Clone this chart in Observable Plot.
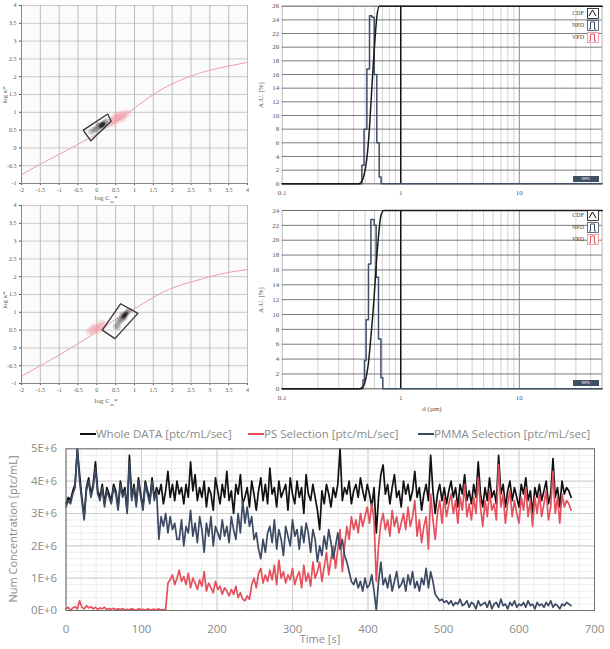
<!DOCTYPE html>
<html><head><meta charset="utf-8">
<script src="https://cdn.jsdelivr.net/npm/d3@7"></script>
<script src="https://cdn.jsdelivr.net/npm/@observablehq/plot@0.6"></script>
<style>
body{margin:0;background:#fff;}
#wrap{position:relative;width:610px;height:649px;overflow:hidden;font-family:"Liberation Serif",serif;}
#wrap > svg, #wrap > figure, .abs{position:absolute;margin:0;}
.lab{position:absolute;white-space:nowrap;color:#555;font-family:"Liberation Serif",serif;font-size:7px;}
.lab sub{font-size:5px;}
.rot{transform:translate(-50%,-50%) rotate(-90deg);}
.ctr{transform:translate(-50%,-50%);}
.sans{font-family:"Open Sans",sans-serif;color:#8a8a8a;font-size:11.5px;}
</style></head><body><div id="wrap"></div>
<script>
// ---------- scatter panels (log κ* vs log C*) ----------
const scatterTicksX = [-2,-1.5,-1,-0.5,0,0.5,1,1.5,2,2.5,3,3.5,4];
const scatterTicksY = [-1,-0.5,0,0.5,1,1.5,2,2.5,3,3.5,4];
const curveX  = [-2,-1.5,-1,-0.5,0,0.5,1,1.5,2,2.5,3,3.5,4];
const curve1Y = [-0.75,-0.46,-0.18,0.1,0.4,0.74,1.12,1.5,1.8,2.02,2.18,2.3,2.4];
const curve2Y = [-0.8,-0.5,-0.2,0.12,0.45,0.8,1.1,1.42,1.68,1.85,2.0,2.12,2.2];
const rect1X = [-0.36,0.29,0.38,-0.16,-0.36];
const rect1Y = [0.5,0.95,0.75,0.2,0.5];
const rect2X = [0.145,0.63,1.09,0.48,0.145];
const rect2Y = [0.5,1.24,0.97,0.26,0.5];
const gray1X = [-0.15,-0.1,-0.05,0,0.03,0.06,0.1,0.12,0.15,0.17,0.2,0.22,0.13,0.08,0.18,0.25,-0.02,0.05];
const gray1Y = [0.45,0.5,0.52,0.55,0.6,0.58,0.62,0.66,0.64,0.68,0.7,0.72,0.6,0.65,0.63,0.75,0.5,0.63];
const core1X = [0.12,0.16,0.1,0.18,0.14];
const core1Y = [0.63,0.66,0.61,0.68,0.65];
const pink1X = [0.35,0.4,0.45,0.5,0.55,0.6,0.65,0.7,0.75,0.48,0.58,0.62,0.8,0.42,0.53,0.68];
const pink1Y = [0.72,0.75,0.8,0.78,0.85,0.88,0.86,0.92,0.95,0.84,0.8,0.93,0.97,0.7,0.9,0.85];
const gray2X = [0.5,0.55,0.58,0.62,0.65,0.68,0.7,0.72,0.75,0.78,0.8,0.83,0.6,0.66,0.74,0.7,0.86,0.56];
const gray2Y = [0.6,0.65,0.72,0.75,0.8,0.85,0.82,0.9,0.93,0.95,1.0,1.02,0.8,0.9,0.86,0.95,1.05,0.58];
const core2X = [0.72,0.76,0.7,0.78,0.74];
const core2Y = [0.9,0.94,0.86,0.97,0.92];
const pink2X = [-0.2,-0.15,-0.1,-0.05,0,0.05,0.1,0.15,0.2,-0.08,0.03,0.12];
const pink2Y = [0.45,0.5,0.48,0.55,0.55,0.6,0.58,0.63,0.65,0.58,0.5,0.68];

// ---------- size distribution panels ----------
const histTicksX = [0.1,1,10,50];
const histMinorX = [0.2,0.3,0.4,0.5,0.6,0.7,0.8,0.9,2,3,4,5,6,7,8,9,20,30,40,50];
const npd1Edges = [0.47,0.49,0.518,0.545,0.57,0.597,0.628,0.658,0.683];
const npd1Vals  = [2.7,8.0,16.8,24.6,24.4,16,6,1.0];
const cdf1D = [0.1,0.44,0.47,0.5,0.52,0.545,0.57,0.597,0.628,0.66,0.69,50];
const cdf1V = [0,0,0.4,2,4,8.3,14,19.5,24.4,26,26,26];
const npd2Edges = [0.48,0.494,0.51,0.534,0.56,0.597,0.62,0.649,0.68,0.706];
const npd2Vals  = [1.2,3.8,9.3,16.8,22.8,22.0,15,6.7,1.5];
const cdf2D = [0.1,0.45,0.48,0.51,0.534,0.56,0.597,0.62,0.649,0.68,0.72,50];
const cdf2V = [0,0,0.3,1.5,3.5,7,12.5,16.5,20.5,23.3,24,24];
const histLegend = ["CDF","NPD","VPD"];

// ---------- time series (values in E+6 ptc/mL, one sample every 3 s) ----------
const timeStep = 3;
const whole = [
3.3,3.5,3.4,3.7,3.9,5.0,4.2,3.5,2.9,3.8,
4.1,3.6,3.9,4.6,3.7,3.5,3.9,3.3,3.8,3.6,
3.4,3.9,3.7,3.2,4.0,3.6,3.8,3.1,4.8,3.5,
3.9,3.3,4.1,3.6,3.2,4.0,3.7,3.4,4.1,3.5,
3.8,3.6,3.9,3.3,3.7,4.3,3.5,3.9,3.4,4.0,
3.6,3.8,3.3,3.9,3.5,4.6,3.7,4.2,3.4,3.8,
3.5,4.0,3.2,3.8,3.6,3.1,4.1,3.7,3.3,3.9,
3.5,4.3,3.4,3.7,3.0,3.9,3.6,4.2,3.3,3.5,
3.8,3.2,4.0,3.6,3.1,3.7,4.1,3.4,3.9,3.3,
4.4,3.6,3.8,3.2,4.0,3.5,3.7,3.9,3.1,4.1,
3.6,3.3,4.0,3.5,3.8,3.0,4.2,3.6,3.4,3.9,
3.5,3.1,2.5,3.7,3.3,3.9,3.6,3.2,3.8,3.5,
3.9,5.0,3.4,3.8,3.6,4.0,3.3,3.7,3.9,3.5,
4.1,3.7,3.4,3.9,3.6,3.2,3.8,2.4,3.5,4.2,
4.5,3.6,3.9,3.3,3.8,4.2,3.5,3.7,3.2,4.0,
3.6,3.9,3.4,3.7,4.3,3.5,3.8,3.1,3.6,3.9,
3.4,4.8,3.7,3.0,3.6,3.9,3.4,3.8,3.3,3.7,
4.0,3.5,3.8,3.2,3.9,3.6,4.2,3.4,3.7,3.3,
3.9,3.5,4.6,3.6,3.2,3.8,3.4,4.1,3.5,3.7,
3.3,4.8,3.6,3.9,3.2,3.7,4.0,3.4,3.8,3.5,
3.2,3.9,3.6,4.1,3.4,3.7,3.0,3.8,3.5,3.9,
3.4,3.7,4.0,3.3,3.6,4.7,3.5,3.8,3.2,4.0,
3.6,3.8,3.7,3.5];
const ps = [
0.05,0.1,0.0,0.08,0.12,0.05,0.3,0.1,0.05,0.15,
0.08,0.12,0.05,0.1,0.03,0.08,0.05,0.1,0.02,0.06,
0.04,0.07,0.02,0.05,0.03,0.06,0.01,0.04,0.02,0.05,
0.03,0.0,0.06,0.02,0.04,0.01,0.05,0.02,0.03,0.04,
0.02,0.05,0.01,0.03,0.02,0.85,0.95,1.1,0.8,1.0,
1.25,0.9,1.05,0.8,1.15,0.7,1.0,0.85,0.65,0.95,
0.75,1.2,0.6,0.85,0.7,0.55,0.9,0.65,0.75,0.5,
0.7,0.6,0.45,0.65,0.5,0.75,0.4,0.55,0.35,0.3,
0.45,0.35,0.8,1.0,0.7,1.15,1.3,0.85,1.1,0.9,
1.25,0.95,1.4,0.8,1.55,1.0,1.2,0.85,1.1,0.95,
1.3,0.8,1.05,1.2,0.7,1.4,0.9,1.15,0.75,1.5,
1.0,1.2,1.5,0.9,1.35,1.8,1.1,1.6,2.0,1.3,
1.9,2.5,1.2,2.0,2.6,2.2,2.9,2.5,2.8,2.4,
3.0,2.6,2.9,3.2,2.7,3.3,2.8,0.9,2.0,2.7,
3.0,2.5,2.8,2.3,3.1,2.6,2.9,2.4,2.7,3.0,
2.5,3.2,2.6,2.9,3.4,2.3,2.8,2.1,2.6,2.9,
1.9,3.6,2.8,2.2,3.0,3.4,2.7,3.5,2.9,3.3,
3.6,3.0,3.4,2.7,3.5,3.1,3.9,2.9,3.3,2.8,
3.5,3.0,4.1,3.2,2.6,3.4,2.9,3.7,3.1,3.3,
2.8,4.5,3.2,3.6,2.7,3.3,3.7,2.9,3.4,3.0,
2.7,3.5,3.1,3.8,2.9,3.4,2.6,3.5,3.0,3.6,
2.9,3.3,3.7,2.8,3.2,4.3,3.0,3.5,2.7,3.6,
3.2,3.4,3.3,3.1];
const pmma = [
3.2,3.4,3.3,3.6,3.8,5.0,4.0,3.4,2.8,3.7,
4.0,3.5,3.8,4.4,3.6,3.4,3.8,3.2,3.7,3.5,
3.3,3.8,3.6,3.1,3.9,3.5,3.7,3.0,4.6,3.4,
3.8,3.2,4.0,3.5,3.1,3.9,3.6,3.3,4.0,3.4,
3.7,2.2,2.9,2.6,3.0,2.4,2.9,2.5,2.7,2.2,
2.2,2.8,2.0,2.6,2.4,3.1,2.3,2.7,2.1,2.9,
2.5,1.8,2.7,2.3,2.9,2.0,2.6,2.4,2.2,2.8,
2.3,2.6,2.1,2.9,2.5,2.2,3.0,2.4,3.4,2.7,
3.2,2.6,2.9,2.2,2.4,1.9,1.6,2.2,1.8,2.4,
2.6,2.1,2.8,1.9,2.5,2.2,1.7,2.6,2.3,2.0,
2.8,2.3,2.5,1.9,2.6,2.1,2.7,2.4,1.8,2.5,
2.2,1.5,2.0,1.7,2.3,1.9,2.5,2.1,1.6,2.0,
2.4,1.9,2.2,1.7,1.5,1.2,0.9,0.8,1.0,0.7,
0.9,0.6,1.0,0.7,0.8,1.1,0.6,0.0,0.9,1.5,
0.8,1.0,0.7,1.1,0.6,0.9,1.2,0.7,0.8,1.0,
0.6,1.1,0.8,1.2,0.7,0.9,0.6,1.0,0.8,1.3,
0.7,1.2,0.9,0.5,0.4,0.3,0.35,0.25,0.3,0.2,
0.3,0.15,0.25,0.2,0.35,0.15,0.2,0.3,0.1,0.25,
0.2,0.05,0.3,0.15,0.2,0.25,0.1,0.3,0.05,0.2,
0.25,0.1,0.35,0.15,0.2,0.05,0.25,0.15,0.3,0.1,
0.2,0.15,0.25,0.1,0.3,0.15,0.2,0.05,0.25,0.15,
0.2,0.1,0.25,0.15,0.3,0.1,0.2,0.15,0.05,0.2,
0.15,0.25,0.2,0.15];
const seriesNames = ["Whole DATA [ptc/mL/sec]","PS Selection [ptc/mL/sec]","PMMA Selection [ptc/mL/sec]"];
const seriesColors = ["#111111","#e4515d","#3c4a63"];
const tsTicksX = [0,100,200,300,400,500,600,700];
const tsTicksY = [0,1,2,3,4,5];
const tsTickLabelsY = ["0E+0","1E+6","2E+6","3E+6","4E+6","5E+6"];

const wrap = document.getElementById("wrap");
function place(el, left, top){ el.style.position="absolute"; el.style.left=left+"px"; el.style.top=top+"px"; wrap.appendChild(el); return el; }
function label(html, x, y, cls){ const d=document.createElement("div"); d.className="lab "+(cls||"ctr"); d.innerHTML=html; d.style.left=x+"px"; d.style.top=y+"px"; wrap.appendChild(d); return d; }
const zip = (xs, ys) => xs.map((x,i)=>({x, y: ys[i]}));

function scatter(top, cY, rX, rY, gX, gY, cX, cYY, pX, pY){
  return place(Plot.plot({
    width: 250, height: 205, marginLeft: 21, marginRight: 3, marginTop: 5, marginBottom: 22,
    style: {fontFamily: "Liberation Serif", fontSize: "6px", color: "#555", background: "transparent"},
    x: {domain: [-2,4], ticks: scatterTicksX, tickFormat: d => String(d), tickSize: 2, tickPadding: 2, label: null},
    y: {domain: [-1,4], ticks: scatterTicksY, tickFormat: d => String(d), tickSize: 2, tickPadding: 3, label: null},
    marks: [
      Plot.frame({fill: "#fbfbfb", stroke: null}),
      Plot.gridX(scatterTicksX, {stroke: "#a8a8a8", strokeOpacity: 0.75}),
      Plot.gridY(scatterTicksY, {stroke: "#b8b8b8", strokeOpacity: 0.75}),
      Plot.line(zip(curveX, cY), {x:"x", y:"y", stroke:"#e9a0a9", strokeWidth:1, curve:"natural"}),
      Plot.dot(zip(pX, pY), {x:"x", y:"y", r:4, fill:"#f29aa5", fillOpacity:0.22}),
      Plot.dot(zip(gX, gY), {x:"x", y:"y", r:3, fill:"#6a6a6a", fillOpacity:0.28}),
      Plot.dot(zip(cX, cYY), {x:"x", y:"y", r:2, fill:"#1e1e1e", fillOpacity:0.5}),
      Plot.line(zip(rX, rY), {x:"x", y:"y", stroke:"#333", strokeWidth:1.3}),
      Plot.ruleX([-2], {stroke:"#888"}),
      Plot.ruleY([-1], {stroke:"#888"})
    ]
  }), 0, top);
}
scatter(0, curve1Y, rect1X, rect1Y, gray1X, gray1Y, core1X, core1Y, pink1X, pink1Y);
scatter(200, curve2Y, rect2X, rect2Y, gray2X, gray2Y, core2X, core2Y, pink2X, pink2Y);
label("log C<sub>ss</sub>*", 106, 199);
label("log C<sub>ss</sub>*", 106, 402);
label("log κ*", 5, 95, "rot");
label("log κ*", 5, 300, "rot");

function hist(top, mt, mb, h, ymax, edges, vals, cD, cV){
  const yt = d3.range(0, ymax+1, 2);
  const step = [{x:0.1,y:0}].concat(edges.slice(0,-1).map((e,i)=>({x:e, y:vals[i]})), [{x:edges[edges.length-1], y:0},{x:50,y:0}]);
  return place(Plot.plot({
    width: 360, height: h, marginLeft: 31.7, marginRight: 8.3, marginTop: mt, marginBottom: mb,
    style: {fontFamily: "Liberation Serif", fontSize: "7px", color: "#555", background: "transparent"},
    x: {type: "log", domain: [0.1,50], ticks: histTicksX, tickFormat: d=>String(d), tickSize: 0, tickPadding: 6, label: null},
    y: {domain: [0,ymax], ticks: yt, tickSize: 0, tickPadding: 3, label: null},
    marks: [
      Plot.frame({stroke: "#bbb"}),
      Plot.gridX(histMinorX, {stroke: "#d2d2d2", strokeOpacity: 1}),
      Plot.gridY(yt, {stroke: "#5a5a5a", strokeOpacity: 0.8}),
      Plot.ruleX([10], {stroke: "#8a8a8a"}),
      Plot.ruleX([1], {stroke: "#111", strokeWidth: 1.5}),
      Plot.line(step, {x:"x", y:"y", stroke:"#3e4f66", strokeWidth:1.5, curve:"step-after"}),
      Plot.line(zip(cD, cV), {x:"x", y:"y", stroke:"#1a1a1a", strokeWidth:1.5, curve:"monotone-x"})
    ]
  }), 250, top);
}
hist(0, 5.7, 16.7, 200, 26, npd1Edges, npd1Vals, cdf1D, cdf1V);
hist(200, 10, 16.7, 205, 24, npd2Edges, npd2Vals, cdf2D, cdf2V);
label("A.U. [%]", 261, 95, "rot");
label("A.U. [%]", 261, 300, "rot");
label("d (µm)", 432, 409);

function histLegendAt(top){
  const icons = [
    '<polyline points="2,8 5.5,2 9,8" fill="none" stroke="#111" stroke-width="1"/>',
    '<polyline points="2,9 3.5,9 3.5,2 7.5,2 7.5,9 9,9" fill="none" stroke="#3e4f66" stroke-width="1"/>',
    '<polyline points="2,9 3.5,9 3.5,2 7.5,2 7.5,9 9,9" fill="none" stroke="#e4515d" stroke-width="1"/>'
  ];
  const boxCol = ["#111","#3e4f66","#e98a95"];
  histLegend.forEach((name,i)=>{
    const t = label(name, 584, top + i*12, "");
    t.style.transform = "translate(-100%,-50%)"; t.style.fontSize = "6px"; t.style.color = "#444";
    const s = document.createElement("div");
    s.innerHTML = `<svg width="12" height="11" style="display:block"><rect x="0.5" y="0.5" width="11" height="10" fill="#fff" stroke="${boxCol[i]}" stroke-width="0.8"/>${icons[i]}</svg>`;
    place(s, 587, top + i*12 - 5.5);
  });
}
histLegendAt(13); histLegendAt(215);
function badge(top){
  const b = document.createElement("div");
  b.textContent = "NPD";
  Object.assign(b.style, {width:"26px", height:"6px", background:"#3e4f66", color:"#fff", fontSize:"4px", lineHeight:"6px", textAlign:"center", fontFamily:"Liberation Sans"});
  place(b, 573, top);
}
badge(176); badge(380);

// ---------- time series ----------
const tsData = [];
[whole, ps, pmma].forEach((arr, k) => arr.forEach((v,i) => tsData.push({t: i*timeStep, v, s: seriesNames[k]})));
place(Plot.plot({
  width: 610, height: 229, marginTop: 28.3, marginBottom: 39, marginLeft: 65.5, marginRight: 16,
  style: {fontFamily: "Open Sans", fontSize: "11.5px", color: "#8a8a8a", background: "transparent"},
  x: {domain: [0,700], ticks: tsTicksX, tickSize: 0, tickPadding: 14, label: null},
  y: {domain: [0,5], ticks: tsTicksY, tickSize: 0, tickPadding: 9, tickFormat: d => tsTickLabelsY[tsTicksY.indexOf(d)], label: null},
  color: {domain: seriesNames, range: seriesColors},
  marks: [
    Plot.gridX(d3.range(0,701,20), {stroke: "#ececec", strokeOpacity: 1}),
    Plot.gridY(d3.range(0,5.01,0.2), {stroke: "#ececec", strokeOpacity: 1}),
    Plot.gridX(tsTicksX, {stroke: "#cdcdcd", strokeOpacity: 1}),
    Plot.gridY(tsTicksY, {stroke: "#cdcdcd", strokeOpacity: 1}),
    Plot.line(tsData, {x:"t", y:"v", z:"s", stroke:"s", strokeWidth:1.7}),
    Plot.frame({stroke: "#707070"})
  ]
}), 0, 420);

const legX = [80, 248, 418];
seriesNames.forEach((n,i)=>{
  const d = document.createElement("div");
  d.className = "sans";
  d.style.whiteSpace = "nowrap";
  d.innerHTML = `<span style="display:inline-block;width:16px;height:2px;background:${seriesColors[i]};vertical-align:3px"></span>`;
  d.appendChild(document.createTextNode(n));
  place(d, legX[i], 426);
});
label("Num Concentration [ptc/mL]", 12, 529, "rot sans").style.fontSize = "11px";
label("Time [s]", 320, 638, "ctr sans").style.fontSize = "11px";
</script></body></html>
